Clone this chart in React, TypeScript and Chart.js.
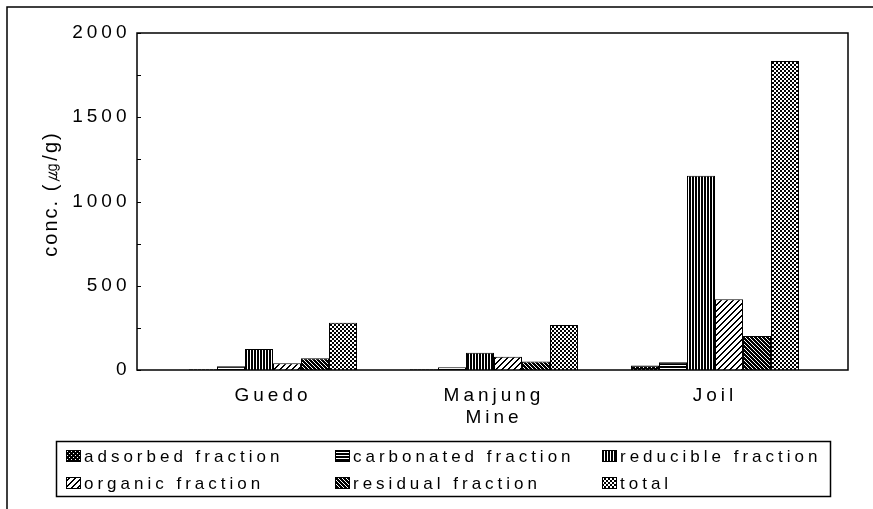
import React, { useEffect, useRef } from 'react';
import { Chart, registerables } from 'chart.js';
Chart.register(...registerables);

const categories = [['Guedo'], ['Manjung', 'Mine'], ['Joil']];
const seriesNames = [
  'adsorbed fraction',
  'carbonated fraction',
  'reducible fraction',
  'organic fraction',
  'residual fraction',
  'total',
];
const adsorbed = [5, 4, 26];
const carbonated = [22, 16, 46];
const reducible = [125, 103, 1153];
const organic = [40, 79, 420];
const residual = [69, 50, 202];
const total = [281, 267, 1834];
const yMax = 2000;
const yStep = 500;
const yMinorStep = 250;
const yTitle = 'conc. (㎍/g)';

const FONT = "'Liberation Sans', Arial, sans-serif";
const W = 873;
const H = 509;

function makePattern(kind: string): CanvasPattern | string {
  const c = document.createElement('canvas');
  let w = 4, h = 4;
  if (kind === 'reducible') { w = 3; h = 1; }
  if (kind === 'carbonated') { w = 1; h = 3; }
  if (kind === 'organic') { w = 6; h = 6; }
  c.width = w; c.height = h;
  const g = c.getContext('2d')!;
  g.fillStyle = '#fff';
  g.fillRect(0, 0, w, h);
  g.fillStyle = '#000';
  for (let x = 0; x < w; x++) {
    for (let y = 0; y < h; y++) {
      let black = false;
      switch (kind) {
        case 'adsorbed': black = !((x === 1 && y === 1) || (x === 3 && y === 3)); break;
        case 'carbonated': black = y !== 2; break;
        case 'reducible': black = x !== 1; break;
        case 'organic': black = (x + y) % 6 < 2; break;
        case 'residual': black = (x - y + 8) % 4 !== 0; break;
        case 'total': black = (((x >> 1) ^ (y >> 1)) & 1) === 1; break;
      }
      if (black) g.fillRect(x, y, 1, 1);
    }
  }
  const ctx = document.createElement('canvas').getContext('2d')!;
  return ctx.createPattern(c, 'repeat') || '#888';
}

const kinds = ['adsorbed', 'carbonated', 'reducible', 'organic', 'residual', 'total'];
const seriesValues = [adsorbed, carbonated, reducible, organic, residual, total];

const FRAME = { left: 137, right: 848 };

export default function App() {
  const ref = useRef<HTMLCanvasElement>(null);
  useEffect(() => {
    const canvas = ref.current!;
    const patterns = kinds.map(makePattern);

    const spacingPlugin = {
      id: 'spacing',
      beforeUpdate(chart: any) { chart.ctx.letterSpacing = '4px'; },
      beforeDraw(chart: any) {
        const ctx = chart.ctx;
        ctx.save();
        ctx.fillStyle = '#fff';
        ctx.fillRect(0, 0, chart.width, chart.height);
        ctx.restore();
        ctx.letterSpacing = '4px';
      },
    };

    const decor = {
      id: 'decor',
      afterDraw(chart: any) {
        const ctx: CanvasRenderingContext2D = chart.ctx;
        const ys = chart.scales.y;
        const top = ys.getPixelForValue(yMax);
        const bottom = ys.getPixelForValue(0);
        ctx.save();
        ctx.strokeStyle = '#000';
        ctx.lineWidth = 1.5;
        ctx.strokeRect(FRAME.left, top, FRAME.right - FRAME.left, bottom - top);
        ctx.lineWidth = 1;
        for (let v = 0; v <= yMax; v += yMinorStep) {
          const y = Math.round(ys.getPixelForValue(v)) + 0.5;
          ctx.beginPath();
          ctx.moveTo(FRAME.left, y);
          ctx.lineTo(FRAME.left + 4, y);
          ctx.stroke();
        }
        ctx.lineWidth = 1.5;
        ctx.beginPath();
        ctx.moveTo(7, H);
        ctx.lineTo(7, 7);
        ctx.lineTo(W, 7);
        ctx.stroke();
        // y title
        ctx.save();
        ctx.translate(51, 194);
        ctx.rotate(-Math.PI / 2);
        ctx.font = `20px ${FONT}`;
        (ctx as any).letterSpacing = '2px';
        ctx.fillStyle = '#000';
        ctx.textAlign = 'center';
        ctx.textBaseline = 'middle';
        ctx.fillText(yTitle, 0, 0);
        ctx.restore();
        // legend
        const lx = 56.5, ly = 441.5, lw = 774, lh = 55;
        ctx.lineWidth = 1.5;
        ctx.strokeRect(lx, ly, lw, lh);
        const colX = [66, 335, 602];
        const rowY = [456, 483];
        ctx.font = `17px ${FONT}`;
        (ctx as any).letterSpacing = '4px';
        ctx.textAlign = 'left';
        ctx.textBaseline = 'middle';
        seriesNames.forEach((name, i) => {
          const cx = colX[i % 3];
          const cy = rowY[Math.floor(i / 3)];
          ctx.fillStyle = patterns[i] as any;
          ctx.fillRect(cx, cy - 6, 15, 12);
          ctx.lineWidth = 1;
          ctx.strokeStyle = '#000';
          ctx.strokeRect(cx + 0.5, cy - 5.5, 14, 11);
          ctx.fillStyle = '#000';
          ctx.fillText(name, cx + 18, cy + 1);
        });
        ctx.restore();
      },
    };

    const chart = new Chart(canvas, {
      type: 'bar',
      data: {
        labels: categories as any,
        datasets: seriesValues.map((d, i) => ({
          label: seriesNames[i],
          data: d,
          backgroundColor: patterns[i] as any,
          borderColor: '#000',
          borderWidth: 1,
          barPercentage: 1,
          categoryPercentage: 0.76,
        })),
      },
      options: {
        responsive: false,
        animation: false,
        layout: { padding: { left: 0, right: 47.5, top: 33, bottom: 0 } },
        plugins: { legend: { display: false }, tooltip: { enabled: false } },
        scales: {
          x: {
            grid: { display: false, drawTicks: false },
            border: { display: false },
            ticks: { color: '#000', font: { family: FONT, size: 19 }, padding: 14, maxRotation: 0, autoSkip: false },
            afterFit: (s: any) => { s.height = H - 370; s.paddingLeft = 0; s.paddingRight = 0; },
          },
          y: {
            min: 0,
            max: yMax,
            grid: { display: false, drawTicks: false },
            border: { display: false },
            ticks: {
              stepSize: yStep,
              color: '#000',
              font: { family: FONT, size: 19 },
              padding: 32,
              callback: (v: any) => String(v),
            },
            afterFit: (s: any) => { s.width = 162.5; s.paddingTop = 0; s.paddingBottom = 0; },
          },
        },
      },
      plugins: [spacingPlugin, decor],
    });
    return () => chart.destroy();
  }, []);
  return (
    <div style={{ position: 'absolute', left: 0, top: 0, width: W, height: H, background: '#fff' }}>
      <canvas ref={ref} width={W} height={H} style={{ width: W, height: H, display: 'block' }} />
    </div>
  );
}
